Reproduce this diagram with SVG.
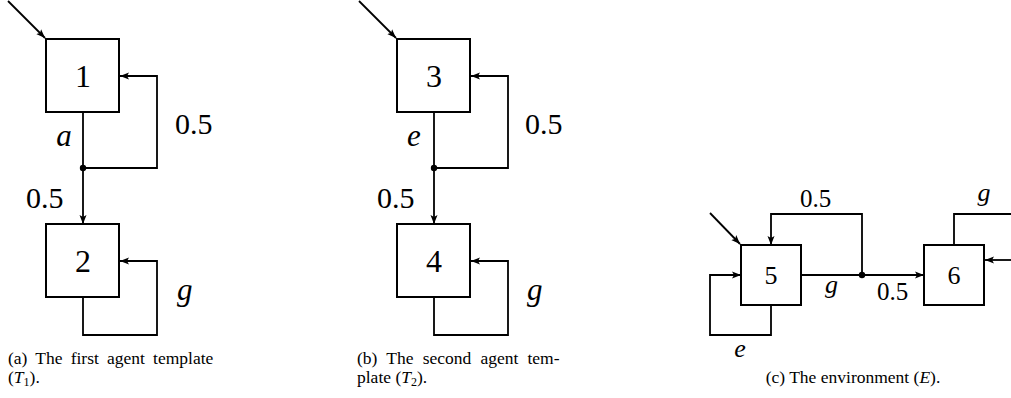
<svg xmlns="http://www.w3.org/2000/svg" width="1011" height="398" viewBox="0 0 1011 398">
<defs>
<marker id="ah" markerUnits="userSpaceOnUse" markerWidth="10" markerHeight="8" refX="9" refY="4" orient="auto">
<path d="M0,0.5 L9,4 L0,7.5 L2,4 z" fill="#000"/>
</marker>
<style>
.box{fill:#fff;stroke:#000;stroke-width:2}
.ln{fill:none;stroke:#000;stroke-width:1.8}
.arr{fill:none;stroke:#000;stroke-width:1.8;marker-end:url(#ah)}
.num{font-family:"Liberation Serif","DejaVu Serif",serif;text-anchor:middle;fill:#000}
.lab{font-family:"Liberation Serif","DejaVu Serif",serif;fill:#000}
.it{font-style:italic}
.cap{font-family:"Liberation Serif","Times New Roman",serif;font-size:17.5px;fill:#000}
</style>
</defs>

<!-- connectors -->
<g id="connectors">
<!-- panel a -->
<line class="arr" x1="8" y1="1" x2="45" y2="38"/>
<line class="arr" x1="83" y1="112" x2="83" y2="224"/>
<polyline class="arr" points="83,168 157,168 157,76 120,76"/>
<polyline class="arr" points="83,297 83,335 157,335 157,261 120,261"/>
<circle cx="83" cy="168" r="3.2" fill="#000"/>
<!-- panel b -->
<line class="arr" x1="359" y1="1" x2="396" y2="38"/>
<line class="arr" x1="434" y1="112" x2="434" y2="224"/>
<polyline class="arr" points="434,168 508,168 508,76 471,76"/>
<polyline class="arr" points="434,297 434,335 508,335 508,261 471,261"/>
<circle cx="434" cy="168" r="3.2" fill="#000"/>
<!-- panel c -->
<line class="arr" x1="710" y1="213" x2="740" y2="244"/>
<line class="arr" x1="801" y1="275" x2="924" y2="275"/>
<polyline class="arr" points="862,275 862,214 771,214 771,245"/>
<polyline class="arr" points="771,305 771,335 710,335 710,275 741,275"/>
<circle cx="862" cy="275" r="3.2" fill="#000"/>
<polyline class="ln" points="954,245 954,214 1012,214"/>
<line class="arr" x1="1012" y1="260" x2="985" y2="260"/>
</g>

<!-- nodes -->
<g id="n1"><rect class="box" x="46" y="39" width="73" height="73"/><text class="num" x="83" y="87" font-size="32">1</text></g>
<g id="n2"><rect class="box" x="46" y="224" width="73" height="73"/><text class="num" x="83" y="272" font-size="32">2</text></g>
<g id="n3"><rect class="box" x="397" y="39" width="73" height="73"/><text class="num" x="434" y="87" font-size="32">3</text></g>
<g id="n4"><rect class="box" x="397" y="224" width="73" height="73"/><text class="num" x="434" y="272" font-size="32">4</text></g>
<g id="n5"><rect class="box" x="741" y="245" width="60" height="60"/><text class="num" x="771" y="284" font-size="26">5</text></g>
<g id="n6"><rect class="box" x="924" y="245" width="60" height="60"/><text class="num" x="954" y="284" font-size="26">6</text></g>

<!-- labels -->
<g id="labels">
<text class="lab it" x="64" y="146" font-size="31" text-anchor="middle">a</text>
<text class="lab" x="175" y="134" font-size="30">0.5</text>
<text class="lab" x="26" y="208" font-size="30">0.5</text>
<text class="lab it" x="177" y="300" font-size="31">g</text>

<text class="lab it" x="414" y="146" font-size="31" text-anchor="middle">e</text>
<text class="lab" x="525" y="134" font-size="30">0.5</text>
<text class="lab" x="377" y="208" font-size="30">0.5</text>
<text class="lab it" x="527" y="300" font-size="31">g</text>

<text class="lab" x="800" y="207" font-size="25">0.5</text>
<text class="lab it" x="825" y="293" font-size="26">g</text>
<text class="lab" x="877" y="300" font-size="25">0.5</text>
<text class="lab it" x="740" y="357" font-size="26" text-anchor="middle">e</text>
<text class="lab it" x="984" y="201" font-size="26" text-anchor="middle">g</text>
</g>

<!-- captions -->
<g id="captions">
<text class="cap" x="8" y="364" word-spacing="3.8">(a) The first agent template</text>
<text class="cap" x="8" y="383">(<tspan font-style="italic">T</tspan><tspan font-size="12" dy="3">1</tspan><tspan dy="-3">).</tspan></text>
<text class="cap" x="357" y="364" word-spacing="4.8">(b) The second agent tem-</text>
<text class="cap" x="357" y="383">plate (<tspan font-style="italic">T</tspan><tspan font-size="12" dy="3">2</tspan><tspan dy="-3">).</tspan></text>
<text class="cap" x="853" y="383" text-anchor="middle">(c) The environment (<tspan font-style="italic">E</tspan>).</text>
</g>
</svg>
